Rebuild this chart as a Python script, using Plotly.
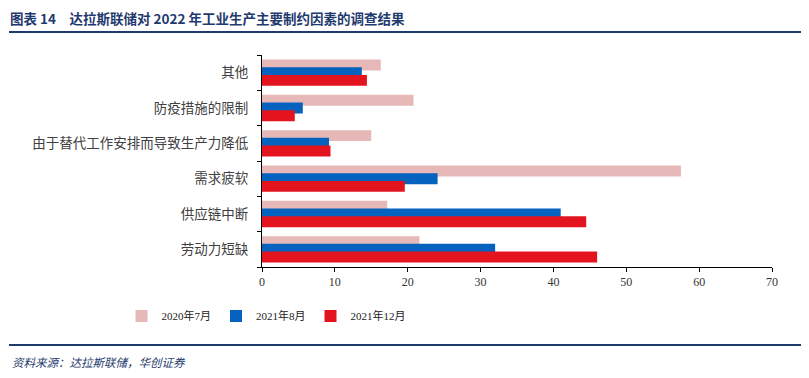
import plotly.graph_objects as go

categories = ["劳动力短缺", "供应链中断", "需求疲软", "由于替代工作安排而导致生产力降低", "防疫措施的限制", "其他"]
series_names = ["2020年7月", "2021年8月", "2021年12月"]
v_2020_07 = [21.6, 17.2, 57.5, 15.0, 20.8, 16.3]
v_2021_08 = [32.0, 41.0, 24.1, 9.2, 5.6, 13.7]
v_2021_12 = [46.0, 44.5, 19.6, 9.4, 4.5, 14.4]
x_ticks = [0, 10, 20, 30, 40, 50, 60, 70]

colors = ["#e6b9b8", "#0563bf", "#e3141e"]
values = [v_2020_07, v_2021_08, v_2021_12]
bar_w = 0.31
offsets = [0.063, -0.155, -0.373]

fig = go.Figure()
for name, vals, col, off in zip(series_names, values, colors, offsets):
    fig.add_trace(go.Bar(
        y=categories, x=vals, name=name, orientation="h",
        marker=dict(color=col, line=dict(width=0)),
        width=bar_w, offset=off,
    ))

# page body has an 8px margin; the figure is sized to fill the rest of the window
PAD = 8
W, H = 809 - PAD, 378 - PAD
L, R, T, B = 262 - PAD, 772 - PAD, 55 - PAD, 267 - PAD

def px(x):
    return (x - PAD - L) / (R - L)

def py(y):
    return (B - (y - PAD)) / (B - T)

navy = "#1f3a6e"

fig.update_layout(
    width=W, height=H,
    margin=dict(l=L, r=W - R, t=T, b=H - B, autoexpand=False),
    paper_bgcolor="white", plot_bgcolor="white",
    barmode="overlay",
    showlegend=True,
    legend=dict(
        orientation="h", xref="container", yref="container",
        x=(266 - PAD) / W, xanchor="center", y=1 - (316 - PAD) / H, yanchor="middle",
        font=dict(family="Liberation Serif, Noto Sans CJK SC", size=11, color="#222"),
        itemwidth=30, traceorder="normal",
    ),
    title=dict(
        text="<b>图表 14　达拉斯联储对 2022 年工业生产主要制约因素的调查结果</b>",
        xref="container", yref="container", x=2 / W, xanchor="left",
        y=1 - (19 - PAD) / H, yanchor="middle", automargin=False,
        pad=dict(l=0, r=0, t=0, b=0),
        font=dict(family="Noto Sans CJK SC", size=13.5, color=navy),
    ),
    xaxis=dict(
        range=[0, 70], tickvals=x_ticks, showgrid=False, zeroline=False,
        showline=True, linecolor="black", linewidth=1, automargin=False,
        ticks="outside", ticklen=4, tickcolor="black",
        tickfont=dict(family="Liberation Serif", size=12, color="#333"),
    ),
    yaxis=dict(
        type="category", categoryorder="array", categoryarray=categories,
        range=[-0.5, 5.5], showgrid=False, zeroline=False, automargin=False,
        showline=True, linecolor="black", linewidth=1,
        ticks="outside", ticklen=4, tickcolor="black", tickson="boundaries",
        ticklabelstandoff=10,
        tickfont=dict(family="Noto Sans CJK SC", size=13.5, color="#404040"),
    ),
    shapes=[
        dict(type="line", xref="paper", yref="paper", x0=px(9), x1=px(806),
             y0=py(32), y1=py(32), line=dict(color=navy, width=2)),
        dict(type="line", xref="paper", yref="paper", x0=px(9), x1=px(806),
             y0=py(345), y1=py(345), line=dict(color=navy, width=2)),
    ],
    annotations=[
        dict(text="<i>资料来源：达拉斯联储，华创证券</i>", xref="paper", yref="paper",
             x=px(10), y=py(362), xanchor="left", yanchor="middle", showarrow=False,
             font=dict(family="Noto Sans CJK SC", size=11.5, color=navy)),
    ],
)

fig.write_html("out.html")
